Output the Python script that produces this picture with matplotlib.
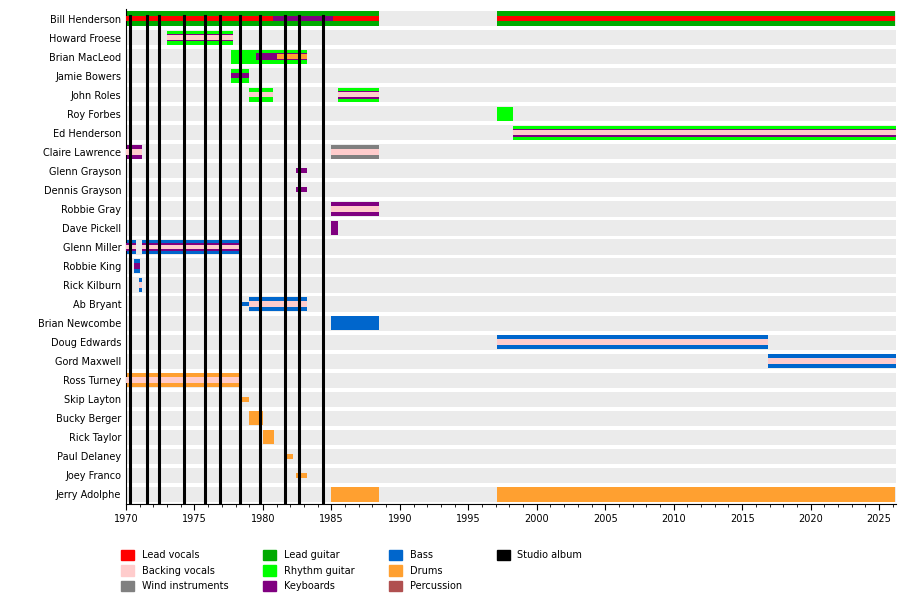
import matplotlib.pyplot as plt
from matplotlib.patches import Patch

members = ["Bill Henderson", "Howard Froese", "Brian MacLeod", "Jamie Bowers", "John Roles",
           "Roy Forbes", "Ed Henderson", "Claire Lawrence", "Glenn Grayson", "Dennis Grayson",
           "Robbie Gray", "Dave Pickell", "Glenn Miller", "Robbie King", "Rick Kilburn",
           "Ab Bryant", "Brian Newcombe", "Doug Edwards", "Gord Maxwell", "Ross Turney",
           "Skip Layton", "Bucky Berger", "Rick Taylor", "Paul Delaney", "Joey Franco",
           "Jerry Adolphe"]

colors = {
    "Lead vocals": "#ff0000", "Backing vocals": "#ffcccc", "Wind instruments": "#808080",
    "Lead guitar": "#00aa00", "Rhythm guitar": "#00ff00", "Keyboards": "#800080",
    "Bass": "#0066cc", "Drums": "#ffa030", "Percussion": "#b05050", "Studio album": "#000000",
}

# (member, start, end, main role, inner roles, thin)
spans = [
    ("Bill Henderson", 1970.0, 1988.5, "Lead guitar", ["Lead vocals"], False),
    ("Bill Henderson", 1997.1, 2026.2, "Lead guitar", ["Lead vocals"], False),
    ("Howard Froese", 1973.0, 1977.8, "Rhythm guitar", ["Keyboards", "Backing vocals"], False),
    ("Brian MacLeod", 1977.7, 1983.2, "Rhythm guitar", [], False),
    ("Jamie Bowers", 1977.7, 1979.0, "Rhythm guitar", ["Keyboards"], False),
    ("John Roles", 1979.0, 1980.7, "Rhythm guitar", ["Backing vocals"], False),
    ("John Roles", 1985.5, 1988.5, "Rhythm guitar", ["Keyboards", "Backing vocals"], False),
    ("Roy Forbes", 1997.1, 1998.3, "Rhythm guitar", [], False),
    ("Ed Henderson", 1998.3, 2026.2, "Rhythm guitar", ["Keyboards", "Backing vocals"], False),
    ("Claire Lawrence", 1970.0, 1971.2, "Keyboards", ["Backing vocals"], False),
    ("Claire Lawrence", 1985.0, 1988.5, "Wind instruments", ["Backing vocals"], False),
    ("Glenn Grayson", 1982.4, 1983.2, "Keyboards", [], True),
    ("Dennis Grayson", 1982.4, 1983.2, "Keyboards", [], True),
    ("Robbie Gray", 1985.0, 1988.5, "Keyboards", ["Backing vocals"], False),
    ("Dave Pickell", 1985.0, 1985.5, "Keyboards", [], False),
    ("Glenn Miller", 1970.0, 1970.7, "Bass", ["Keyboards", "Backing vocals"], False),
    ("Glenn Miller", 1971.2, 1978.4, "Bass", ["Keyboards", "Backing vocals"], False),
    ("Robbie King", 1970.6, 1971.0, "Bass", ["Keyboards"], False),
    ("Rick Kilburn", 1970.95, 1971.2, "Bass", ["Backing vocals"], False),
    ("Ab Bryant", 1978.3, 1979.0, "Bass", [], True),
    ("Ab Bryant", 1979.0, 1983.2, "Bass", ["Backing vocals"], False),
    ("Brian Newcombe", 1985.0, 1988.5, "Bass", [], False),
    ("Doug Edwards", 1997.1, 2016.9, "Bass", ["Backing vocals"], False),
    ("Gord Maxwell", 2016.9, 2026.2, "Bass", ["Backing vocals"], False),
    ("Ross Turney", 1970.0, 1978.4, "Drums", ["Backing vocals"], False),
    ("Skip Layton", 1978.3, 1979.0, "Drums", [], True),
    ("Bucky Berger", 1979.0, 1980.0, "Drums", [], False),
    ("Rick Taylor", 1980.0, 1980.8, "Drums", [], False),
    ("Paul Delaney", 1981.6, 1982.2, "Drums", [], True),
    ("Joey Franco", 1982.4, 1983.2, "Drums", [], True),
    ("Jerry Adolphe", 1985.0, 1988.5, "Drums", [], False),
    ("Jerry Adolphe", 1997.1, 2026.2, "Drums", [], False),
]

# extra partial stripes: (member, start, end, role, height)
extras = [
    ("Bill Henderson", 1980.7, 1985.1, "Keyboards", 0.28),
    ("Brian MacLeod", 1979.5, 1983.2, "Keyboards", 0.36),
    ("Brian MacLeod", 1981.0, 1983.2, "Drums", 0.24),
]

albums = [1970.3, 1971.5, 1972.4, 1974.2, 1975.8, 1976.9, 1978.3, 1979.8, 1981.6, 1982.6, 1984.4]

fig = plt.figure(figsize=(9, 6), dpi=100)
ax = fig.add_axes([0.14, 0.16, 0.855, 0.825])
ypos = {m: i for i, m in enumerate(members)}

for i in range(len(members)):
    ax.barh(i, 2026.2 - 1970, left=1970, height=0.8, color="#ebebeb", zorder=0)

H = 0.74
for m, s, e, role, inner, thin in spans:
    y = ypos[m]
    if thin:
        ax.barh(y, e - s, left=s, height=0.25, color=colors[role], zorder=2)
        continue
    ax.barh(y, e - s, left=s, height=H, color=colors[role], zorder=2)
    if len(inner) == 1:
        ax.barh(y, e - s, left=s, height=H * 0.4, color=colors[inner[0]], zorder=3)
    elif len(inner) == 2:
        ax.barh(y, e - s, left=s, height=H * 0.55, color=colors[inner[0]], zorder=3)
        ax.barh(y, e - s, left=s, height=H * 0.33, color=colors[inner[1]], zorder=4)

for m, s, e, role, h in extras:
    ax.barh(ypos[m], e - s, left=s, height=h, color=colors[role], zorder=4)

for a in albums:
    ax.axvline(a, color="black", lw=2.2, zorder=5, ymin=0, ymax=0.985)

ax.set_xlim(1970, 2026.2)
ax.set_ylim(len(members) - 0.5, -0.5)
ax.set_yticks(range(len(members)))
ax.set_yticklabels(members, fontsize=7)
ax.set_xticks(range(1970, 2026, 5))
ax.set_xticks(range(1970, 2027), minor=True)
ax.tick_params(axis="x", labelsize=7, length=4)
ax.tick_params(axis="x", which="minor", length=2)
ax.tick_params(axis="y", length=0)
for sp in ["top", "right"]:
    ax.spines[sp].set_visible(False)

order = ["Lead vocals", "Backing vocals", "Wind instruments", "Lead guitar", "Rhythm guitar",
         "Keyboards", "Bass", "Drums", "Percussion", "Studio album"]
handles = [Patch(color=colors[k], label=k) for k in order]
handles += [Patch(color="none", label=""), Patch(color="none", label="")]
fig.legend(handles=handles, loc="lower left", bbox_to_anchor=(0.125, 0.0), ncol=4,
           frameon=False, fontsize=7, handlelength=1.3, handleheight=1.3,
           columnspacing=3.6, labelspacing=0.5)

fig.savefig("out.png")
